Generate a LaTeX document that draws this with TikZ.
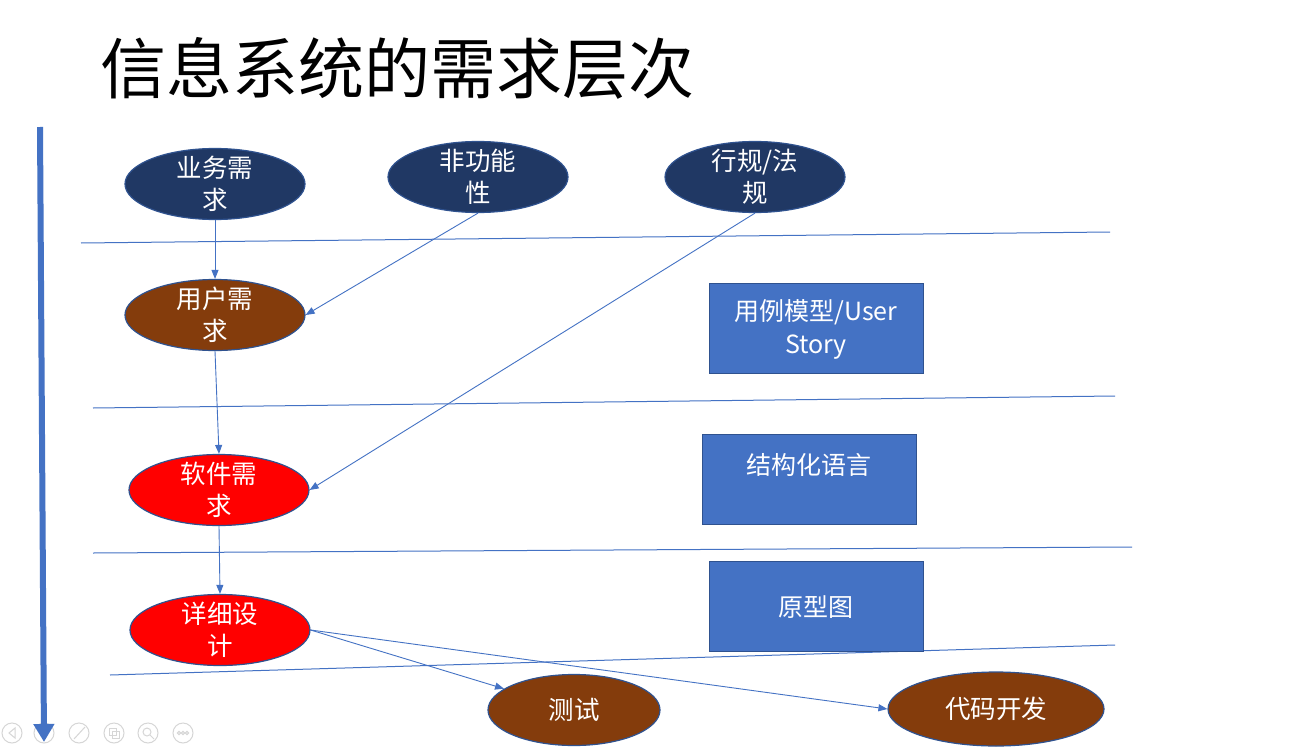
\documentclass[tikz,border=0pt]{standalone}
\usepackage{fontspec}
\setmainfont{Noto Sans CJK SC}
\usetikzlibrary{shapes.geometric,arrows.meta}
\definecolor{navy}{HTML}{203864}
\definecolor{brownfill}{HTML}{843C0C}
\definecolor{hotred}{HTML}{FF0000}
\definecolor{edge}{HTML}{2F528F}
\definecolor{boxblue}{HTML}{4472C4}
\definecolor{lineblue}{HTML}{4472C4}
\definecolor{uigray}{HTML}{D6D6D6}
\begin{document}
\begin{tikzpicture}[x=1pt,y=-1pt,
  ell/.style={ellipse, draw=edge, line width=1.2pt, minimum width=180pt,
    minimum height=71pt, inner xsep=0pt, inner ysep=-6pt, text=white, align=center,
    font=\fontsize{25.5}{32}\selectfont},
  biz/.style={ell, fill=navy},
  usr/.style={ell, fill=brownfill},
  hot/.style={ell, fill=hotred},
  box/.style={rectangle, draw=edge, line width=1pt, fill=boxblue,
    minimum width=214pt, minimum height=90pt, inner sep=0pt},
  boxtext/.style={text=white, align=center, inner sep=0pt,
    font=\fontsize{25}{33}\selectfont},
  link/.style={draw=lineblue, line width=0.9pt, -{Triangle[length=9pt,width=7pt]}},
  band/.style={draw=lineblue, line width=1pt},
  ui/.style={draw=uigray, line width=1pt},
]
\useasboundingbox (0,0) rectangle (1289,749);
\fill[white] (0,0) rectangle (1289,749);

% title
\node[anchor=west, inner sep=0pt, font=\fontsize{66}{70}\selectfont] (title) at (100,68) {信息系统的需求层次};

% separating bands
\draw[band] (81,243) -- (1110,232);
\draw[band] (93,408) -- (1115,396);
\draw[band] (93,553) -- (1132,547);
\draw[band] (110,675) -- (1115,645);

% slide-show toolbar
\draw[ui] (12,733) circle (10);
\draw[ui] (15,728) -- (9,733) -- (15,738) -- cycle;
\draw[ui] (44,733) circle (10);
\draw[ui] (79,733) circle (10);
\draw[ui] (74,739) -- (85,727);
\draw[ui] (114,733) circle (10);
\draw[ui] (109,728) rectangle (116,735);
\draw[ui] (112,731) rectangle (119,738);
\draw[ui] (148,733) circle (10);
\draw[ui] (147,732) circle (4);
\draw[ui] (150,735) -- (154,739);
\draw[ui] (183,733) circle (10);
\draw[ui] (179,733) circle (1.6);
\draw[ui] (183,733) circle (1.6);
\draw[ui] (187,733) circle (1.6);

% level arrow on the left
\coordinate (flowtop) at (40,127);
\coordinate (flowend) at (44,742);
\draw[draw=lineblue, line width=6pt, -{Triangle[length=18pt,width=20pt]}] (flowtop) -- (flowend);

% requirement sources
\node[biz] (yw) at (215,184) {业务需\\求};
\node[biz] (fgn) at (478,177) {非功能\\性};
\node[biz] (hg) at (755,177) {行规/法\\规};

% requirement levels
\node[usr] (yh) at (215,315) {用户需\\求};
\node[hot] (rj) at (219,490) {软件需\\求};
\node[hot] (xx) at (220,630) {详细设\\计};
\node[usr, minimum width=172pt] (cs) at (574,710) {测试};
\node[usr, minimum width=216pt, minimum height=74pt] (dm) at (996,709) {代码开发};

% artefacts
\node[box] (uc) at (816,328) {};
\node[boxtext] (uct) at (816,329) {用例模型/User\\Story};
\node[box] (jg) at (809,479.5) {};
\node[boxtext] (jgt) at (809,465) {结构化语言};
\node[box] (yx) at (816,606.5) {};
\node[boxtext] (yxt) at (816,607) {原型图};

% connectors
\draw[link] (yw.south) -- (yh.north);
\draw[link] (fgn.south) -- (yh.east);
\draw[link] (hg.south) -- (rj.east);
\draw[link] (yh.south) -- (rj.north);
\draw[link] (rj.south) -- (xx.north);
\draw[link] (xx.east) -- (cs);
\draw[link] (xx.east) -- (dm.west);
\end{tikzpicture}
\end{document}
